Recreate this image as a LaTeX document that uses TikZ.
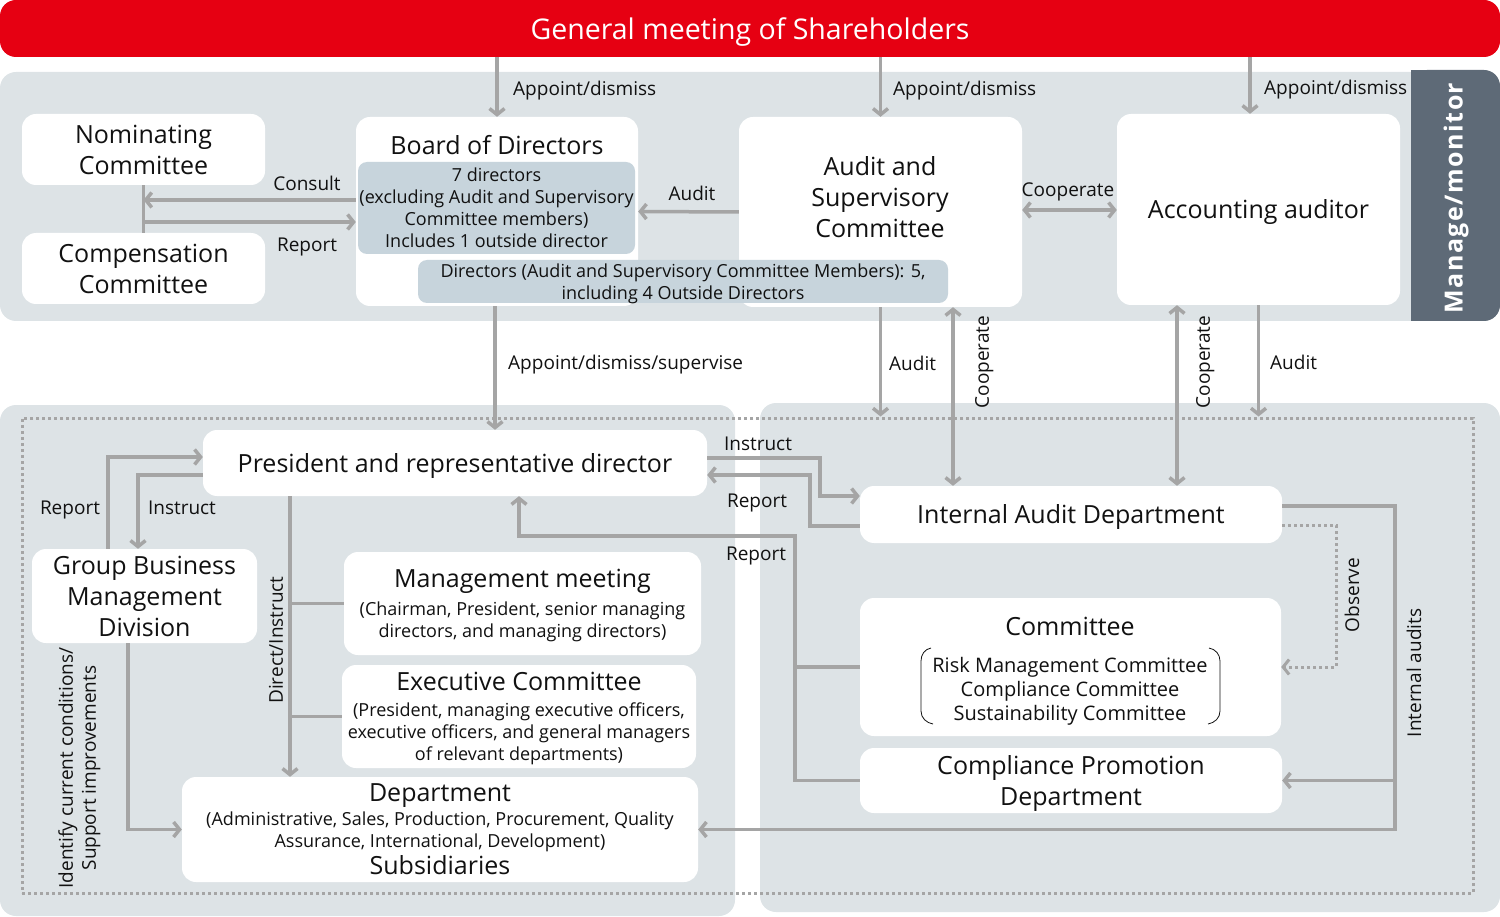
\documentclass[tikz,border=0pt]{standalone}
\usepackage{fontspec}
\setmainfont{Open Sans}
\newfontfamily\mgrfont[LetterSpace=6]{Open Sans}
\usetikzlibrary{arrows.meta}
\definecolor{shred}{HTML}{E60012}
\definecolor{panel}{HTML}{DDE3E6}
\definecolor{boxblue}{HTML}{C7D4DC}
\definecolor{wire}{HTML}{A5A5A5}
\definecolor{mgrfill}{HTML}{5E6A77}
\definecolor{ink}{HTML}{111111}
\newcommand\bnrfont{\fontsize{28.5}{32}\selectfont}
\newcommand\ttlfont{\fontsize{25}{31}\selectfont}
\newcommand\smlfont{\fontsize{18}{22}\selectfont}
\newcommand\lblfont{\fontsize{19}{23}\selectfont}
\begin{document}
\begin{tikzpicture}[x=1pt,y=-1pt,
  box/.style={fill=white,rounded corners=14pt,align=center,text=ink,inner sep=0pt,text depth=0pt,font=\ttlfont},
  inbox/.style={fill=boxblue,rounded corners=9pt,align=center,text=ink,inner sep=0pt,text depth=0pt,font=\smlfont},
  line/.style={draw=wire,line width=3.5pt},
  arr/.style={line,-{Straight Barb[length=6pt,width=15pt]}},
  darr/.style={line,{Straight Barb[length=6pt,width=15pt]}-{Straight Barb[length=6pt,width=15pt]}},
  dots/.style={draw=wire,line width=3pt,dash pattern=on 3pt off 3pt},
  lbl/.style={font=\lblfont,text=ink,inner sep=0pt,text depth=0pt},
  vlbl/.style={lbl,rotate=90}]
\useasboundingbox (0,0) rectangle (1500,917);

% panels
\fill[panel,rounded corners=16pt] (0,72) rectangle (1500,321);
\fill[panel,rounded corners=16pt] (0,405) rectangle (735,916);
\fill[panel,rounded corners=16pt] (760,403) rectangle (1500,912);
\fill[mgrfill,rounded corners=16pt] (1411,70) rectangle (1500,321);
\fill[mgrfill] (1411,70) rectangle (1440,321);
\node[rotate=90,text=white,font=\mgrfont\fontsize{25}{30}\selectfont\bfseries] (mgr) at (1456,198) {Manage/monitor};
\node[dots,minimum width=1451pt,minimum height=475pt] (frame) at (747.5,655.5) {};

% banner
\node[fill=shred,rounded corners=16pt,minimum width=1500pt,minimum height=57pt,text=white,font=\bnrfont,inner sep=0pt,text depth=0pt] (banner) at (750,28.5) {General meeting of Shareholders};

% top row
\node[box,minimum width=243pt,minimum height=71pt] (nom) at (143.5,149.5) {Nominating\\Committee};
\node[box,minimum width=243pt,minimum height=71pt] (comp) at (143.5,268.5) {Compensation\\Committee};
\node[box,minimum width=282pt,minimum height=189pt] (board) at (497,211.5) {};
\node[lbl,font=\ttlfont] (boardttl) at (497,145) {Board of Directors};
\node[inbox,minimum width=277pt,minimum height=92pt] (boardin) at (496.5,208) {7 directors\\(excluding Audit and Supervisory\\Committee members)\\Includes 1 outside director};
\node[box,minimum width=283pt,minimum height=190pt] (audsup) at (880.5,212) {};
\node[lbl,font=\ttlfont,align=center] (audsupttl) at (880,197) {Audit and\\Supervisory\\Committee};
\node[inbox,minimum width=530pt,minimum height=43pt] (dirs) at (683,281.5) {Directors (Audit and Supervisory Committee Members): 5,\\including 4 Outside Directors};
\node[box,minimum width=283pt,minimum height=191pt] (acc) at (1258.5,209.5) {Accounting auditor};

% bottom left
\node[box,minimum width=504pt,minimum height=66pt] (pres) at (455,463) {President and representative director};
\node[box,minimum width=225pt,minimum height=94pt] (gbm) at (144.5,596) {Group Business\\Management\\Division};
\node[box,minimum width=357pt,minimum height=103pt] (mgmt) at (522.5,603.5) {Management meeting\\[-3pt]{\smlfont (Chairman, President, senior managing}\\[-9pt]{\smlfont directors, and managing directors)}};
\node[box,minimum width=354pt,minimum height=103pt] (exec) at (519,716.5) {Executive Committee\\[-5pt]{\smlfont (President, managing executive officers,}\\[-9pt]{\smlfont executive officers, and general managers}\\[-9pt]{\smlfont of relevant departments)}};
\node[box,minimum width=516pt,minimum height=105pt] (dept) at (440,829.5) {Department\\[-7pt]{\smlfont (Administrative, Sales, Production, Procurement, Quality}\\[-9pt]{\smlfont Assurance, International, Development)}\\[-4pt]Subsidiaries};

% bottom right
\node[box,minimum width=422pt,minimum height=57pt] (iad) at (1071,514.5) {Internal Audit Department};
\node[box,minimum width=421pt,minimum height=138pt] (cmte) at (1070.5,667) {};
\node[lbl,font=\ttlfont] (cmtettl) at (1070,626) {Committee};
\node[lbl,font=\fontsize{20}{24}\selectfont,align=center] (cmtelist) at (1070,689) {Risk Management Committee\\Compliance Committee\\Sustainability Committee};
\node[box,minimum width=422pt,minimum height=65pt] (cpd) at (1071,780.5) {Compliance Promotion\\Department};
\draw[ink,line width=0.8pt] (931,648) to[out=190,in=90] (921,661) -- (921,711) to[out=-90,in=170] (933,724);
\draw[ink,line width=0.8pt] (1209,648) to[out=-10,in=90] (1220,661) -- (1220,711) to[out=-90,in=10] (1208,724);

% shareholders
\draw[arr] (banner.south -| board.north) -- (board.north);
\draw[arr] (banner.south -| audsup.north) -- (audsup.north);
\draw[arr] ([xshift=-8.5pt]banner.south -| acc.north) -- ([xshift=-8.5pt]acc.north);
\node[lbl,anchor=west] (ad1) at (513,88) {Appoint/dismiss};
\node[lbl,anchor=west] (ad2) at (893,88) {Appoint/dismiss};
\node[lbl,anchor=west] (ad3) at (1264,87) {Appoint/dismiss};

% committees
\draw[line] (nom.south) -- (comp.north);
\draw[arr] ([yshift=11.5pt]board.west) -- ([yshift=11.5pt]board.west -| nom.south);
\draw[arr] ([yshift=-10.5pt]board.west -| nom.south) -- ([yshift=-10.5pt]board.west);
\node[lbl] (consult) at (307,183) {Consult};
\node[lbl] (report1) at (307,245) {Report};
\draw[arr] (audsup.west) -- (board.east);
\node[lbl] (audit1) at (692,193) {Audit};
\draw[darr] ([yshift=2pt]audsup.east) -- ([yshift=2pt]audsup.east -| acc.west);
\node[lbl] (coop1) at (1068,190) {Cooperate};

% down to execution
\draw[arr] ([xshift=-2pt]board.south) -- ([xshift=-2pt]board.south |- pres.north);
\node[lbl,anchor=west] (ads) at (508,362) {Appoint/dismiss/supervise};
\draw[arr] (audsup.south) -- (audsup.south |- frame.north);
\node[lbl,anchor=west] (audit2) at (889,363) {Audit};
\draw[darr] ([xshift=72.5pt]audsup.south) -- ([xshift=72.5pt]audsup.south |- iad.north);
\node[vlbl] (coop2) at (982,362) {Cooperate};
\draw[darr] ([xshift=-81.5pt]acc.south) -- ([xshift=-81.5pt]acc.south |- iad.north);
\node[vlbl] (coop3) at (1203,362) {Cooperate};
\draw[arr] (acc.south) -- (acc.south |- frame.north);
\node[lbl,anchor=west] (audit3) at (1270,362) {Audit};

% execution left
\draw[arr] ([xshift=-36.5pt]gbm.north) |- ([yshift=6pt]pres.west);
\draw[arr] ([yshift=-12pt]pres.west) -| ([xshift=-6.5pt]gbm.north);
\node[lbl] (report2) at (70,508) {Report};
\node[lbl] (instr1) at (182,508) {Instruct};
\coordinate (dtop) at ([xshift=-165pt]pres.south);
\draw[arr] (dtop) -- (dtop |- dept.north);
\draw[line] (mgmt.west) -- (mgmt.west -| dtop);
\draw[line] (exec.west) -- (exec.west -| dtop);
\node[vlbl] (direct) at (276,640) {Direct/Instruct};
\draw[arr] ([xshift=-16.5pt]gbm.south) |- (dept.west);
\node[vlbl,align=center] (ident) at (77,768) {Identify current conditions/\\Support improvements};

% execution right
\draw[arr] ([yshift=5pt]pres.east) -- ++(113,0) |- ([yshift=18.5pt]iad.west);
\draw[arr] ([yshift=-11.5pt]iad.west) -- ++(-50,0) |- ([yshift=-12pt]pres.east);
\node[lbl] (instr2) at (758,444) {Instruct};
\node[lbl] (report3) at (757,501) {Report};
\coordinate (rpt) at ([xshift=-65pt]cpd.west);
\draw[arr] (cpd.west) -- (rpt) -- (rpt |- 0,536) -| ([xshift=64pt]pres.south);
\draw[line] (cmte.west) -- (cmte.west -| rpt);
\node[lbl] (report4) at (756,554) {Report};
\draw[dots,-{Straight Barb[length=6pt,width=15pt]}] ([yshift=-10.5pt]iad.east) -- ++(54,0) |- (cmte.east);
\node[vlbl] (observe) at (1352,595) {Observe};
\coordinate (iaud) at ([xshift=113pt,yshift=8.5pt]iad.east);
\draw[arr] ([yshift=8.5pt]iad.east) -- (iaud) |- (dept.east);
\draw[arr] (cpd.east -| iaud) -- (cpd.east);
\node[vlbl] (intaud) at (1414,673) {Internal audits};

\end{tikzpicture}
\end{document}
